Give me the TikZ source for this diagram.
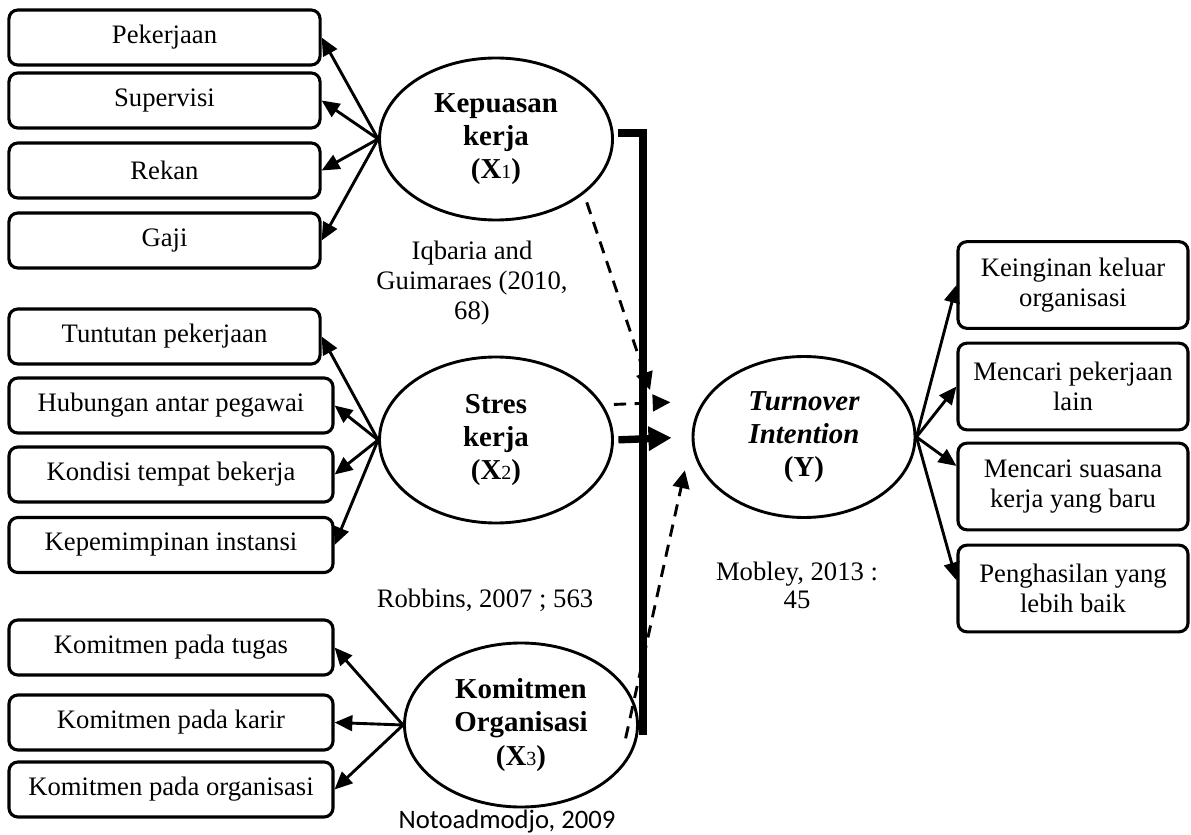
\documentclass[tikz,border=0pt]{standalone}
\usepackage{fontspec}
\setmainfont{Liberation Serif}
\newfontfamily\calibfont{Carlito}
\usetikzlibrary{arrows.meta,shapes.geometric}
\newcommand{\subidx}[1]{{\mdseries\fontsize{9}{9}\selectfont #1}}

\begin{document}
\begin{tikzpicture}[x=0.45pt, y=-0.45pt,
    indbox/.style={draw, line width=1.4pt, rounded corners=4pt, minimum height=24.75pt,
        inner sep=2pt, align=center, font=\fontsize{12}{13.5}\selectfont},
    rbox/.style={indbox, minimum width=103.5pt, minimum height=39pt},
    latent/.style={draw, ellipse, line width=1.3pt, minimum width=104.85pt, minimum height=72.9pt,
        inner sep=0pt, align=center, font=\fontsize{13}{15}\selectfont\bfseries},
    cite/.style={align=center, font=\fontsize{12}{13.5}\selectfont},
    ind/.style={-{Triangle[length=8pt,width=7pt]}, line width=1.3pt},
    hyp/.style={-{Triangle[length=8pt,width=7.5pt]}, line width=1.3pt, dash pattern=on 5.5pt off 3.8pt},
    fat/.style={-{Triangle[length=10.4pt,width=10.4pt]}, line width=3.3pt},
    bar/.style={line width=3.8pt}]
    \useasboundingbox (0,0) rectangle (1191,835);

    % variabel laten
    \node[latent] (x1) at (496,139) {Kepuasan\\kerja\\(X\subidx{1})};
    \node[latent, minimum height=74.7pt] (x2) at (496,440) {Stres\\kerja\\(X\subidx{2})};
    \node[latent, minimum height=73.8pt] (x3) at (521,725) {Komitmen\\Organisasi\\(X\subidx{3})};
    \node[latent, minimum width=99.9pt, minimum height=72.45pt] (y) at (804,437)
        {\textit{Turnover}\\\textit{Intention}\\(Y)};

    % indikator X1
    \node[indbox, minimum width=140pt] (p1) at (164.5,37.5) {Pekerjaan};
    \node[indbox, minimum width=140pt] (p2) at (164.5,100.5) {Supervisi};
    \node[indbox, minimum width=140pt] (p3) at (164.5,170.5) {Rekan};
    \node[indbox, minimum width=140pt] (p4) at (164.5,240.5) {Gaji};
    \foreach \b in {p1,p2,p3,p4}
        \draw[ind] (x1.west) -- (\b.east);

    % indikator X2
    \node[indbox, minimum width=140pt] (s1) at (164.5,336.5) {Tuntutan pekerjaan};
    \node[indbox, minimum width=145.8pt] (s2) at (171,405.5) {Hubungan antar pegawai};
    \node[indbox, minimum width=145.8pt] (s3) at (171,474.5) {Kondisi tempat bekerja};
    \node[indbox, minimum width=145.8pt] (s4) at (171,545) {Kepemimpinan instansi};
    \foreach \b in {s1,s2,s3,s4}
        \draw[ind] (x2.west) -- (\b.east);

    % indikator X3
    \node[indbox, minimum width=145.8pt] (k1) at (171,647.5) {Komitmen pada tugas};
    \node[indbox, minimum width=145.8pt] (k2) at (171,722.5) {Komitmen pada karir};
    \node[indbox, minimum width=145.8pt] (k3) at (171,789.5) {Komitmen pada organisasi};
    \foreach \b in {k1,k2,k3}
        \draw[ind] (x3.west) -- (\b.east);

    % indikator Y
    \node[rbox] (r1) at (1073,285) {Keinginan keluar\\organisasi};
    \node[rbox] (r2) at (1073,386.5) {Mencari pekerjaan\\lain};
    \node[rbox] (r3) at (1073,486.5) {Mencari suasana\\kerja yang baru};
    \node[rbox] (r4) at (1073,588.5) {Penghasilan yang\\lebih baik};
    \draw[ind] (y.east) -- (r1.west);
    \draw[ind] (y.east) -- (r2.west);
    \draw[ind] (y.east) -- (r3.170);
    \draw[ind] (y.east) -- (r4.176);

    % sumber
    \node[cite] (c1) at (472,283) {Iqbaria and\\Guimaraes (2010,\\68)};
    \node[cite] (c2) at (485,600) {Robbins, 2007 ; 563};
    \node[cite, font=\calibfont\fontsize{12}{14}\selectfont] (c3) at (507,822) {Notoadmodjo, 2009};
    \node[cite, font=\fontsize{12}{12.6}\selectfont] (c4) at (797,585) {Mobley, 2013 :\\45};

    % hubungan parsial
    \coordinate (t1) at (650,390);
    \draw[hyp, shorten <=4pt] (x1.-32) -- (t1);
    \draw[hyp, shorten >=9.5pt] ([yshift=16pt]x2.east) -- ([yshift=16pt]y.west);
    \draw[hyp] ([shift={(-6pt,-6pt)}]x3.east) -- ([shift={(-3pt,-15pt)}]y.west);

    % hubungan simultan
    \coordinate (bartop) at (643,133);
    \coordinate (barbot) at (643,735);
    \draw[bar] ([xshift=2pt]x1.east |- bartop) -- (bartop) -- (barbot);
    \draw[fat, shorten <=2pt, shorten >=9pt] (x2.east) -- (y.west);
\end{tikzpicture}
\end{document}
